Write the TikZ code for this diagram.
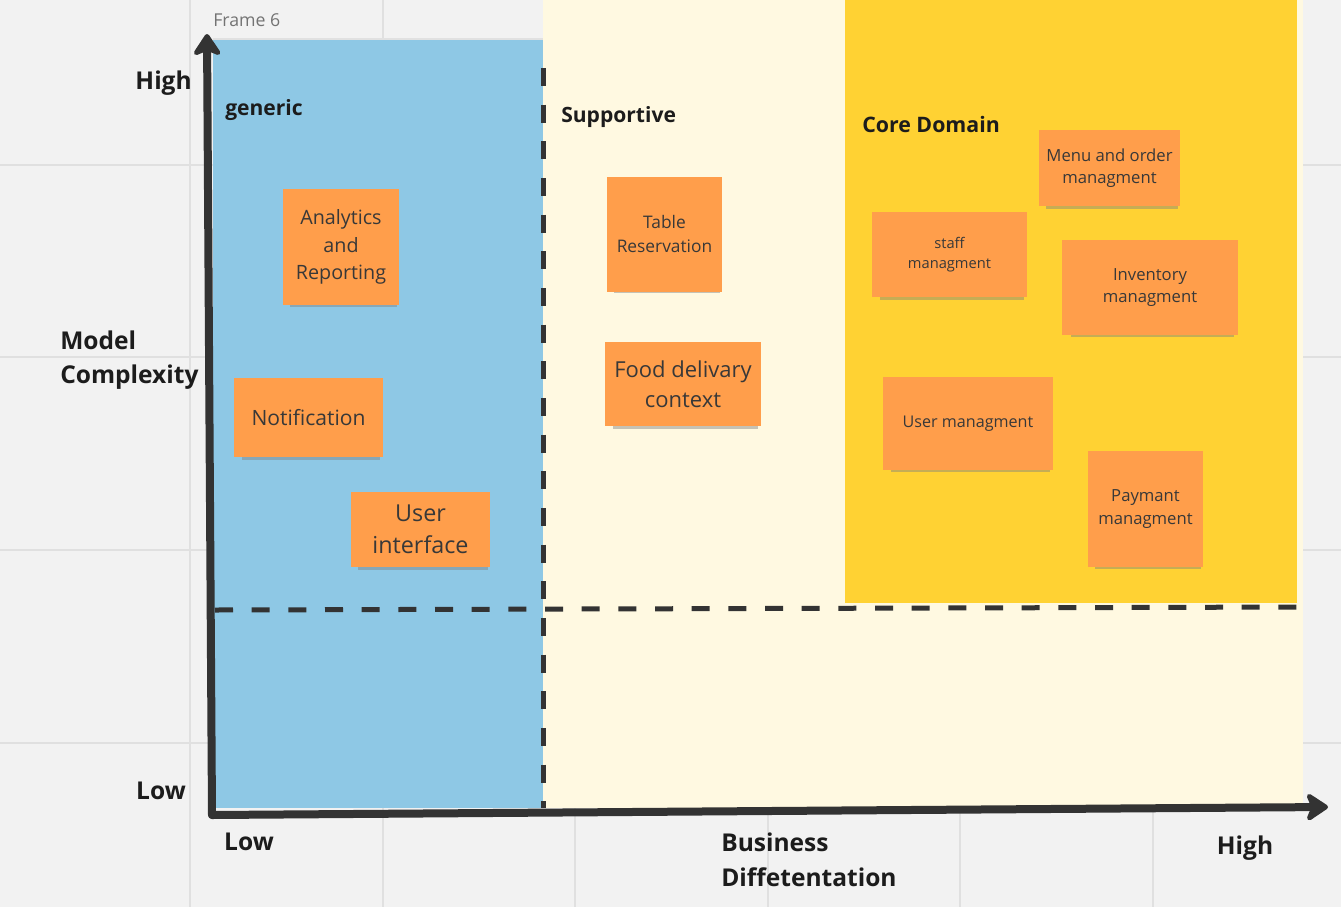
\documentclass[tikz,border=0pt]{standalone}
\usepackage{fontspec}
\setmainfont{Open Sans}
\usetikzlibrary{positioning,arrows.meta,shadows}
\definecolor{boardgray}{HTML}{F2F2F2}
\definecolor{gridgray}{HTML}{E0E0E0}
\definecolor{genericblue}{HTML}{8EC8E5}
\definecolor{paleyellow}{HTML}{FFF9E1}
\definecolor{coregold}{HTML}{FFD233}
\definecolor{stickyorange}{HTML}{FF9E4B}
\definecolor{axisdark}{HTML}{333333}
\definecolor{inkdark}{HTML}{1C1C1C}
\tikzset{sticky note/.style={fill=stickyorange,align=center,inner sep=2pt,text=black!78,
          drop shadow={shadow xshift=2pt,shadow yshift=-4.5pt,shadow scale=0.93,opacity=0.45}},
        axis label/.style={font=\fontsize{18.4}{26}\selectfont\bfseries,text=inkdark,align=left,inner sep=0pt},
        area label/.style={font=\fontsize{15.8}{18}\selectfont\bfseries,text=inkdark,anchor=west,inner sep=0pt},
        split line/.style={axisdark,line width=3.75pt,dash pattern=on 13.5pt off 14pt},
        axis line/.style={axisdark,line width=6pt,line cap=round,-{Stealth[length=19pt,width=25pt,inset=5pt,round]}},
}
\begin{document}
\begin{tikzpicture}[x=0.75pt,y=-0.75pt]
				\useasboundingbox (0,0) rectangle (1341,907);
				\fill[boardgray] (0,0) rectangle (1341,907);
				% board grid
				\foreach \gx in {190,383,575,768,960,1153}
				\draw[gridgray,line width=1pt] (\gx,0) -- (\gx,907);
				\foreach \gy in {165,357,550,743}
				\draw[gridgray,line width=1pt] (0,\gy) -- (1341,\gy);
				
				% areas
				\fill[paleyellow] (543,0) rectangle (1303,808);
				\fill[coregold] (845,0) rectangle (1297,603);
				\fill[genericblue] (213,39) rectangle (543,808);
				\draw[gridgray!80!black!40,line width=0.8pt] (213,39) -- (543,39);
				\node[anchor=west,inner sep=0pt,text=black!55,font=\fontsize{13.3}{16}\selectfont] (frame) at (213,20) {Frame 6};
				
				% split lines
				\coordinate (vtop) at (543,68);
				\coordinate (vbot) at (543,808);
				\coordinate (hleft) at (215,610);
				\coordinate (hright) at (1303,607);
				\draw[split line] (vtop) -- (vbot);
				\draw[split line] (hleft) -- (hright);
				
				% axes
				\coordinate (origin) at (212,815);
				\coordinate (ytip) at (207,34);
				\coordinate (xtip) at (1328,807);
				\draw[axis line] (origin) -- (ytip);
				\draw[axis line] (origin) -- (xtip);
				
				\node[axis label,anchor=east] (yhigh) at (192,83) {High};
				\node[axis label,anchor=west] (ytitle) at (60,360) {Model\\Complexity};
				\node[axis label] (ylow) at (161,791) {Low};
				\node[axis label] (xlow) at (249,842) {Low};
				\node[axis label,anchor=west] (xtitle) at (721,860) {Business\\Diffetentation};
				\node[axis label] (xhigh) at (1245,848) {High};
				
				% area titles
				\node[area label] (generic) at (225,110) {generic};
				\node[area label] (supportive) at (561,117) {Supportive};
				\node[area label,font=\fontsize{16}{18}\selectfont\bfseries] (core) at (862,124) {Core Domain};
				
				% generic stickies
				\node[sticky note,minimum width=87pt,minimum height=87pt,font=\fontsize{14.8}{20.6}\selectfont] (analytics) at (341,247) {Analytics\\and\\Reporting};
				\node[sticky note,minimum width=111.75pt,minimum height=59.25pt,font=\fontsize{15.8}{20}\selectfont] (notify) at (308.5,417.5) {Notification};
				\node[sticky note,minimum width=104.25pt,minimum height=56.25pt,font=\fontsize{17.5}{24}\selectfont] (ui) at (420.5,529.5) {User\\interface};
				
				% supportive stickies
				\node[sticky note,minimum width=86.25pt,minimum height=86.25pt,font=\fontsize{13}{18}\selectfont] (table) at (664.5,234) {Table\\Reservation};
				\node[sticky note,minimum width=117pt,minimum height=63pt,font=\fontsize{16.5}{22.5}\selectfont] (food) at (683,384) {Food delivary\\context};
				
				% core stickies
				\node[sticky note,minimum width=105.75pt,minimum height=57pt,font=\fontsize{12.5}{17}\selectfont] (menu) at (1109.5,168) {Menu and order\\managment};
				\node[sticky note,minimum width=116.25pt,minimum height=63.75pt,font=\fontsize{11}{15.5}\selectfont] (staff) at (949.5,254.5) {staff\\managment};
				\node[sticky note,minimum width=132pt,minimum height=71.25pt,font=\fontsize{12.5}{17}\selectfont] (inventory) at (1150,287.5) {Inventory\\managment};
				\node[sticky note,minimum width=127.5pt,minimum height=69.75pt,font=\fontsize{12.1}{17}\selectfont] (usermgmt) at (968,423.5) {User managment};
				\node[sticky note,minimum width=86.25pt,minimum height=87pt,font=\fontsize{12.5}{17}\selectfont] (payment) at (1145.5,509) {Paymant\\managment};
				
			\end{tikzpicture}
\end{document}
